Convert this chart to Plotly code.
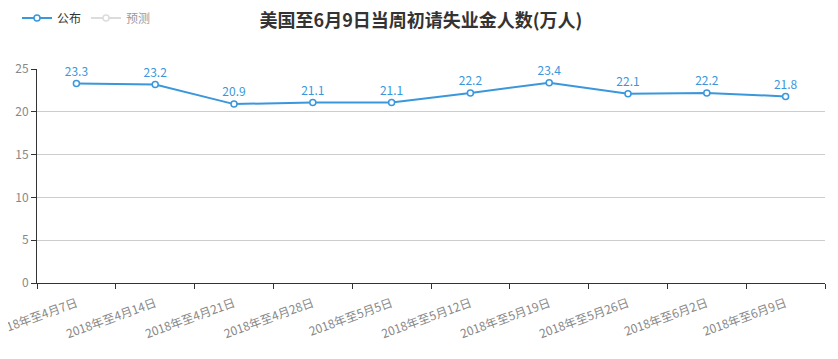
import plotly.graph_objects as go

categories = ["2018年至4月7日", "2018年至4月14日", "2018年至4月21日", "2018年至4月28日",
              "2018年至5月5日", "2018年至5月12日", "2018年至5月19日", "2018年至5月26日",
              "2018年至6月2日", "2018年至6月9日"]
published = [23.3, 23.2, 20.9, 21.1, 21.1, 22.2, 23.4, 22.1, 22.2, 21.8]
forecast = [None] * 10
y_ticks = [0, 5, 10, 15, 20, 25]

FONT = "Noto Sans CJK SC, Microsoft YaHei, sans-serif"
BLUE = "#3a97dc"

# page body has an 8px margin, so figure is sized/offset to land on the reference pixels
W, H = 830, 351

fig = go.Figure()
fig.add_trace(go.Scatter(
    x=categories, y=published, name="公布", mode="lines+markers+text",
    line=dict(color=BLUE, width=2),
    marker=dict(symbol="circle", size=6, color="white", line=dict(color=BLUE, width=1.5)),
    text=[f"{v:.1f}" for v in published], textposition="top center",
    textfont=dict(color=BLUE, size=12, family=FONT), cliponaxis=False,
))
fig.add_trace(go.Scatter(
    x=categories, y=forecast, name="预测", mode="lines+markers",
    line=dict(color="#bbbbbb", width=2),
    marker=dict(symbol="circle", size=6, color="white", line=dict(color="#bbbbbb", width=1.5)),
    visible="legendonly",
))

fig.update_layout(
    width=W, height=H,
    margin=dict(l=29, r=13, t=61, b=76),
    paper_bgcolor="white", plot_bgcolor="white",
    font=dict(family=FONT, size=12, color="#666"),
    title=dict(text="<b>美国至6月9日当周初请失业金人数(万人)</b>", x=413 / W, xref="container",
               xanchor="center", y=1 - 13 / H, yanchor="middle",
               font=dict(size=18, color="#333", family=FONT)),
    legend=dict(orientation="h", xref="container", yref="container", x=9 / W, y=1 - 10 / H,
                xanchor="left", yanchor="middle", font=dict(size=12, color="#333"),
                itemwidth=30, tracegroupgap=0),
    showlegend=True,
)
fig.update_xaxes(
    type="category", range=[-0.5, 9.5], tickson="boundaries",
    showline=True, linecolor="#333", linewidth=1,
    ticks="outside", ticklen=5, tickcolor="#333",
    tickangle=-20, tickfont=dict(size=12, color="#888"), ticklabelstandoff=8,
    showgrid=False, automargin=False,
)
fig.update_yaxes(
    range=[0, 25], tickvals=y_ticks, showline=True, linecolor="#333", linewidth=1,
    ticks="outside", ticklen=5, tickcolor="#333",
    showgrid=True, gridcolor="#cccccc", gridwidth=1, zeroline=False,
    tickfont=dict(size=12, color="#888"), automargin=False,
)

fig.write_html("out.html")
